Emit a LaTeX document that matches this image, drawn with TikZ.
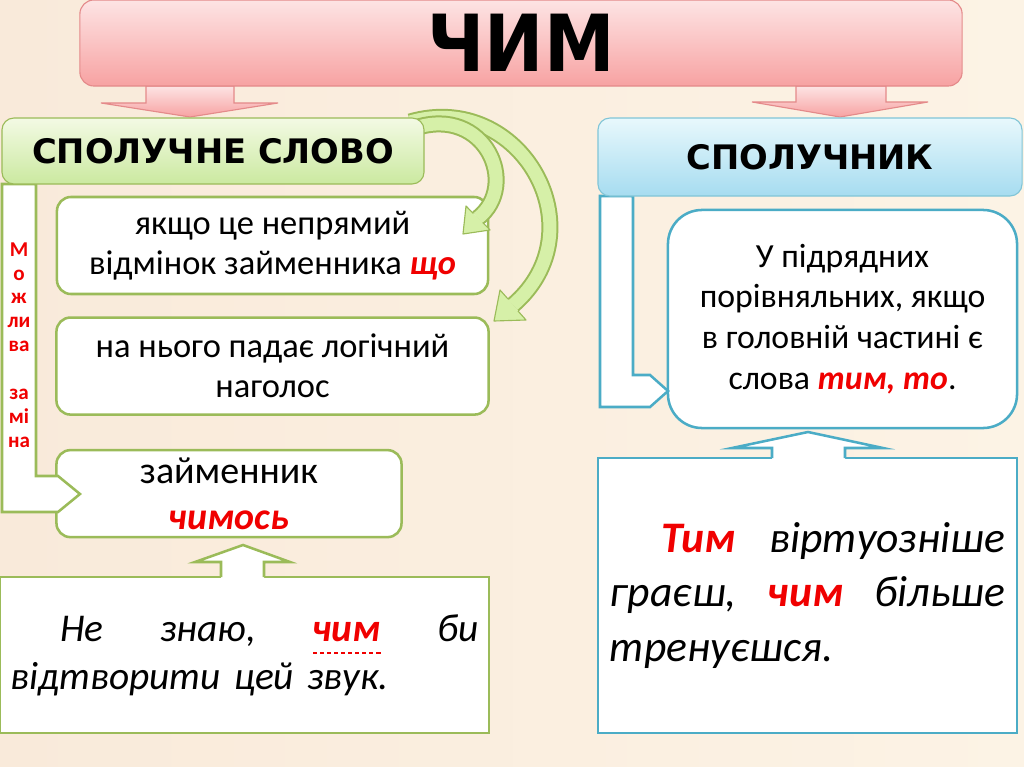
\documentclass[tikz,border=0pt]{standalone}
\usepackage{fontspec}
\setmainfont{Carlito}
\newfontfamily\hdrfont{DejaVu Sans}
\newfontfamily\titlefont{DejaVu Sans Condensed}
\usetikzlibrary{positioning,shapes,calc}
\definecolor{bgl}{RGB}{249,234,218}
\definecolor{bgr}{RGB}{252,243,229}
\definecolor{pinktop}{RGB}{253,228,228}
\definecolor{pinkbot}{RGB}{247,162,162}
\definecolor{pinkline}{RGB}{228,138,138}
\definecolor{grntop}{RGB}{243,250,228}
\definecolor{grnbot}{RGB}{203,233,160}
\definecolor{grnline}{RGB}{155,187,89}
\definecolor{blutop}{RGB}{232,248,252}
\definecolor{blubot}{RGB}{166,220,240}
\definecolor{bluline}{RGB}{75,172,198}
\definecolor{arrfill}{RGB}{214,240,168}
\definecolor{txtred}{RGB}{240,0,0}
\newcommand{\redw}[1]{{\color{txtred}\bfseries\itshape #1}}
\tikzset{
    hdr/.style={rounded corners=0.3cm,line width=0.8pt,inner sep=0pt,font=\hdrfont\bfseries\fontsize{24}{28}\selectfont},
    gbox/.style={draw=grnline,line width=1.8pt,fill=white,rounded corners=0.35cm,align=center,inner sep=0pt,font=\fontsize{24.5}{28.5}\selectfont},
    pinkarr/.style={top color=pinktop,bottom color=pinkbot,draw=pinkline,line width=0.8pt},
}
\begin{document}
\begin{tikzpicture}[x=0.025cm,y=-0.025cm,
    bbox/.style={draw=bluline,line width=1.8pt,fill=white,align=center,inner sep=0pt},
    bend shaft/.style={draw=grnline,line width=0.425cm},
    bend fill/.style={draw=arrfill,line width=0.325cm}]
        \useasboundingbox (0,0) rectangle (1024,767);
        \fill[left color=bgl,right color=bgr] (0,0) rectangle (1024,767);

        % arrows from the title
        \draw[pinkarr] (146,86) -- (146,103) -- (101,103) -- (190,117) -- (278,103) -- (234,103) -- (234,86) -- cycle;
        \draw[pinkarr] (796,86) -- (796,102) -- (752,102) -- (840,117) -- (928,102) -- (886,102) -- (886,86) -- cycle;
        \node[rounded corners=0.35cm,top color=pinktop,bottom color=pinkbot,draw=pinkline,line width=0.8pt,
            minimum width=22.05cm,minimum height=2.15cm,font=\titlefont\bfseries\fontsize{56}{60}\selectfont] (t) at (521,43) {ЧИМ};

        \node[gbox,minimum width=10.775cm,minimum height=2.425cm] (b1) at (272.5,245.5) {якщо це непрямий\\відмінок займенника \redw{що}};
        \node[gbox,minimum width=10.8cm,minimum height=2.425cm] (b2) [below=0.525cm of b1] {на нього падає логічний\\наголос};
        \node[gbox,minimum width=8.625cm,minimum height=2.175cm,font=\fontsize{27}{33}\selectfont] (b3) [below=0.825cm of b2.south west, anchor=north west] {займенник\\\redw{чимось}};
        \node[bbox,rounded corners=0.85cm,minimum width=8.725cm,minimum height=5.45cm,font=\fontsize{24}{29}\selectfont] (rb) at (842.5,319) {У підрядних\\порівняльних, якщо\\в головній частині є\\слова \redw{тим, то}.};

        % brackets
        \draw[draw=grnline,fill=white,line width=1.8pt] (2,184) -- (36,184) -- (36,476) -- (58,476) -- (80,494) -- (58,512) -- (2,512) -- cycle;
        \draw[draw=bluline,fill=white,line width=1.8pt] (600,196) -- (633,196) -- (633,375) -- (650,375) -- (668,391) -- (650,407) -- (600,407) -- cycle;
        \node[text=txtred,align=center,font=\bfseries\fontsize{15}{17}\selectfont] (mz) at (19,345) {М\\о\\ж\\ли\\ва\\[17pt]за\\мі\\на};

        % bent arrows
        \coordinate (a1s) at (415,128);
        \coordinate (a1e) at (478,218);
        \coordinate (a2s) at (410,122);
        \coordinate (a2e) at (513,305);
        \draw[bend shaft] (a2s) .. controls (520,90) and (600,230) .. (a2e);
        \draw[bend fill] (a2s) .. controls (520,90) and (600,230) .. (a2e);
        \fill[arrfill] (500,290) -- (494,321) -- (526,320) -- cycle;
        \draw[grnline,line width=0.8pt,line join=round] (508,299) -- (500,290) -- (494,321) -- (526,320) -- (518,311);
        \draw[bend shaft] (a1s) .. controls (485,105) and (520,185) .. (a1e);
        \draw[bend fill] (a1s) .. controls (485,105) and (520,185) .. (a1e);
        \fill[arrfill] (466,206) -- (463,234) -- (490,230) -- cycle;
        \draw[grnline,line width=0.8pt,line join=round] (473.3,213.5) -- (466,206) -- (463,234) -- (490,230) -- (482.7,222.5);

        \node[hdr,top color=grntop,bottom color=grnbot,draw=grnline,minimum width=10.55cm,minimum height=1.65cm] (hl) at (213,151) {СПОЛУЧНЕ СЛОВО};
        \node[hdr,top color=blutop,bottom color=blubot,draw=bluline!70,minimum width=10.6cm,minimum height=1.95cm] (hr) at (810,157) {СПОЛУЧНИК};

        % example boxes
        \node[gbox,rounded corners=0pt,minimum width=12.225cm,minimum height=3.9cm,text width=11.7cm,align=left,font=\itshape\fontsize{28}{34}\selectfont] (bl) at (244.5,655)
            {\hspace*{1.25cm}Не\hfill знаю,\hfill \redw{чим}\hfill би\\відтворити цей звук.};
        \coordinate (ul1) at (313,653);
        \coordinate (ul2) at (381,653);
        \draw[txtred,line width=1.4pt,dash pattern=on 3pt off 2pt] (ul1) -- (ul2);
        \node[bbox,minimum width=10.475cm,minimum height=6.875cm,text width=9.875cm,align=left,font=\itshape\fontsize{31}{39}\selectfont] (br) at (807.5,595.5)
            {\hspace*{1.3cm}\redw{Тим}\hfill віртуозніше\\граєш,\hfill \redw{чим}\hfill більше\\тренуєшся.};

        \fill[white] (221,579) -- (221,562) -- (195,562) -- (243,545) -- (290,562) -- (264,562) -- (264,579) -- cycle;
        \draw[grnline,line width=1.8pt] (221,577) -- (221,562) -- (195,562) -- (243,545) -- (290,562) -- (264,562) -- (264,577);
        \fill[white] (772,460) -- (772,448) -- (732,448) -- (808,432) -- (883,448) -- (845,448) -- (845,460) -- cycle;
        \draw[bluline,line width=1.8pt] (772,458) -- (772,448) -- (732,448) -- (808,432) -- (883,448) -- (845,448) -- (845,458);
\end{tikzpicture}
\end{document}
